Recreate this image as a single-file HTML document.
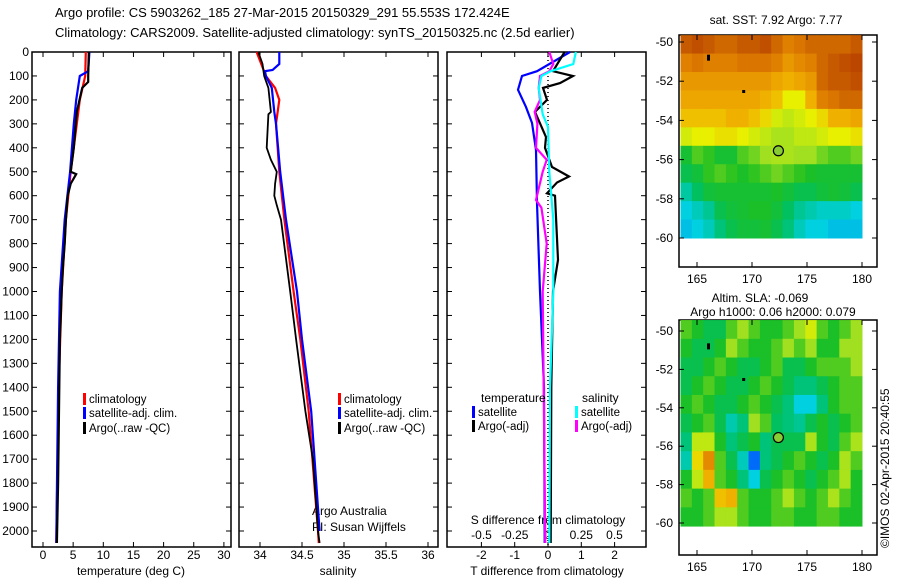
<!DOCTYPE html>
<html><head><meta charset="utf-8">
<style>
body{margin:0;background:#fff;}
svg{display:block;font-family:"Liberation Sans",sans-serif;font-size:12px;}
</style></head>
<body>
<svg id="c" width="900" height="580" viewBox="0 0 900 580">
<text x="55" y="17" font-size="13">Argo profile: CS 5903262_185 27-Mar-2015 20150329_291 55.553S 172.424E</text>
<text x="55" y="37" font-size="13">Climatology: CARS2009. Satellite-adjusted climatology: synTS_20150325.nc (2.5d earlier)</text>
<text x="776" y="24" text-anchor="middle">sat. SST: 7.92  Argo: 7.77</text>
<text x="760" y="302" text-anchor="middle">Altim. SLA: -0.069</text>
<text x="773" y="316" text-anchor="middle">Argo h1000: 0.06 h2000: 0.079</text>
<text transform="translate(889,548) rotate(-90)">©IMOS 02-Apr-2015 20:40:55</text>
<g id="g"></g>
</svg>
<script>
// ---- data ----
const depthTicks=[0,100,200,300,400,500,600,700,800,900,1000,1100,1200,1300,1400,1500,1600,1700,1800,1900,2000];
const tempTicks=[0,5,10,15,20,25,30];
const salTicks=[34,34.5,35,35.5,36];
const salTickLabels=["34","34.5","35","35.5","36"];
const tdiffTicks=[-2,-1,0,1,2];
const sdiffTicks=[-0.5,-0.25,0,0.25,0.5];
const sdiffTickLabels=["-0.5","-0.25","0","0.25","0.5"];

const tArgoDepth=[0,100,125,150,250,400,500,510,550,600,700,800,900,1000,1200,1400,1800,2050];
const tArgo=[7.6,7.5,7.5,6.5,5.6,5.1,4.6,5.5,4.6,4.1,3.8,3.6,3.3,3.1,2.8,2.7,2.5,2.3];
const tClimDepth=[0,100,200,300,500,700,1000,1400,2050];
const tClim=[7.1,7.0,6.1,5.6,4.6,3.8,3.1,2.6,2.2];
const tSatDepth=[0,80,100,200,300,500,700,1000,1400,2050];
const tSat=[7.7,7.5,6.1,5.5,5.1,4.5,3.6,2.8,2.5,2.2];

const sArgoDepth=[0,50,100,150,250,260,400,450,500,550,600,640,700,1000,1200,1500,1700,2000,2050];
const sArgo=[33.98,34.03,34.05,34.1,34.13,34.1,34.08,34.13,34.2,34.18,34.17,34.2,34.25,34.36,34.43,34.54,34.63,34.69,34.71];
const sClimDepth=[0,100,150,200,300,500,700,1000,1200,1500,2000,2050];
const sClim=[33.96,34.07,34.18,34.23,34.19,34.23,34.29,34.4,34.48,34.58,34.69,34.7];
const sSatDepth=[0,50,75,80,100,150,250,300,500,700,1000,1200,1500,2000];
const sSat=[34.23,34.23,34.15,34.06,34.07,34.14,34.17,34.19,34.24,34.31,34.44,34.5,34.61,34.71];

const dTSatDepth=[0,80,100,158,230,296,409,630,1000,1400,2050];
const dTSat=[0.66,-0.33,-0.78,-0.9,-0.66,-0.48,-0.36,-0.33,-0.24,-0.12,-0.1];
const dTArgoDepth=[0,80,100,130,150,200,250,355,400,480,520,545,590,600,868,1000,1400,2050];
const dTArgo=[0.5,0.15,0.75,0.36,-0.15,-0.03,-0.39,-0.06,-0.09,0.12,0.63,0.27,-0.03,0.21,0.3,0.15,0.1,0.08];
const dSSatDepth=[0,50,80,100,150,260,313,500,700,1000,1400,2050];
const dSSat=[0.21,0.19,0.02,-0.05,-0.07,-0.04,0,0.01,0.04,0.04,0.015,0.01];
const dSArgoDepth=[0,50,80,100,150,200,250,300,400,450,500,618,650,800,1000,2050];
const dSArgo=[0.01,0.04,0.01,-0.06,-0.07,-0.06,-0.1,-0.08,-0.09,-0.01,-0.04,-0.09,-0.05,-0.01,-0.04,-0.02];

const lonTicks=[165,170,175,180];
const latTicks=[-50,-52,-54,-56,-58,-60];
const sstGrid=[
[.88,.9,.88,.85,.85,.88,.88,.9,.85,.8,.82,.85,.85,.85,.85,.88],
[.8,.82,.8,.8,.8,.82,.82,.82,.8,.75,.78,.8,.85,.88,.9,.92],
[.75,.75,.75,.75,.75,.75,.75,.75,.72,.7,.72,.75,.85,.88,.88,.9],
[.72,.72,.72,.72,.72,.72,.72,.7,.68,.62,.62,.7,.8,.82,.85,.85],
[.68,.68,.68,.68,.7,.7,.68,.65,.6,.58,.6,.62,.65,.7,.7,.72],
[.6,.62,.62,.64,.64,.62,.6,.58,.56,.56,.58,.58,.6,.62,.62,.64],
[.45,.5,.48,.45,.45,.5,.52,.55,.56,.56,.55,.55,.52,.5,.5,.52],
[.42,.44,.48,.5,.48,.46,.48,.5,.52,.5,.48,.46,.45,.45,.45,.45],
[.35,.4,.44,.45,.45,.45,.45,.45,.46,.44,.42,.42,.44,.45,.44,.42],
[.3,.33,.36,.42,.44,.45,.46,.46,.44,.4,.36,.34,.32,.32,.32,.3],
[.28,.3,.33,.38,.42,.44,.44,.45,.42,.38,.33,.3,.3,.28,.28,.28]];
const slaGrid=[
[.5,.46,.42,.42,.5,.55,.5,.46,.46,.5,.55,.6,.5,.46,.5,.55],
[.46,.42,.42,.46,.55,.5,.46,.46,.5,.55,.5,.55,.46,.46,.55,.55],
[.42,.42,.46,.5,.46,.42,.42,.46,.5,.42,.42,.46,.5,.5,.5,.55],
[.42,.46,.5,.46,.42,.42,.46,.5,.46,.42,.38,.38,.42,.46,.5,.5],
[.46,.5,.46,.42,.42,.46,.5,.46,.42,.38,.3,.3,.38,.46,.5,.5],
[.42,.46,.5,.42,.34,.38,.55,.5,.4,.38,.36,.42,.46,.42,.46,.5],
[.38,.58,.58,.46,.38,.42,.46,.38,.42,.42,.42,.56,.46,.42,.5,.56],
[.34,.65,.78,.5,.42,.33,.18,.38,.42,.46,.5,.46,.42,.46,.56,.5],
[.46,.58,.7,.5,.46,.38,.3,.42,.46,.5,.46,.42,.46,.5,.56,.46],
[.5,.46,.5,.68,.7,.5,.46,.46,.5,.56,.5,.46,.5,.56,.5,.46],
[.46,.46,.5,.56,.56,.5,.46,.46,.5,.5,.46,.46,.5,.5,.46,.46]];
const argoLon=172.4, argoLat=-55.55;

// ---- drawing ----
const NS='http://www.w3.org/2000/svg';
const G=document.getElementById('g');
function mk(tag,attrs,parent){const e=document.createElementNS(NS,tag);for(const k in attrs)e.setAttribute(k,attrs[k]);(parent||G).appendChild(e);return e;}
const Y=d=>52+d*0.2395;

const panels=[
 {x0:32,x1:231,xs:v=>43+(v-0)*6.03,name:'temperature-panel'},
 {x0:239,x1:438,xs:v=>260+(v-34)*84,name:'salinity-panel'},
 {x0:447,x1:646,xs:v=>548+v*33.3,name:'difference-panel'}];
const sx3=v=>548+v*133;
const YB=547;

panels.forEach((p,i)=>{
  const r=mk('rect',{x:p.x0,y:52,width:p.x1-p.x0,height:YB-52,fill:'none',stroke:'#000','stroke-width':1.5});
  
  
  depthTicks.forEach(d=>{
    mk('line',{x1:p.x0,x2:p.x0+5,y1:Y(d),y2:Y(d),stroke:'#000'});
    mk('line',{x1:p.x1-5,x2:p.x1,y1:Y(d),y2:Y(d),stroke:'#000'});
    if(i===0){const t=mk('text',{x:29,y:Y(d)+4,'text-anchor':'end'});t.textContent=d;
      
      }
  });
});
function xTicks(p,vals,labels,ly){
  vals.forEach((v,k)=>{const x=p.xs(v);
    mk('line',{x1:x,x2:x,y1:52,y2:57,stroke:'#000'});
    mk('line',{x1:x,x2:x,y1:YB-5,y2:YB,stroke:'#000'});
    const t=mk('text',{x:x,y:ly,'text-anchor':'middle'});t.textContent=labels?labels[k]:v;
    
    });
}
xTicks(panels[0],tempTicks,null,559);
xTicks(panels[1],salTicks,salTickLabels,559);
xTicks(panels[2],tdiffTicks,null,559);
sdiffTicks.forEach((v,k)=>{const t=mk('text',{x:sx3(v),y:539,'text-anchor':'middle'});t.textContent=sdiffTickLabels[k];
  
  });

function label(x,y,s,name,anchor){const t=mk('text',{x:x,y:y,'text-anchor':anchor||'start'});t.textContent=s;
  
  return t;}
label(131,575,'temperature (deg C)','temperature-axis-title','middle');
label(338,575,'salinity','salinity-axis-title','middle');
label(547,575,'T difference from climatology','t-diff-axis-title','middle');
label(548,524,'S difference from climatology','s-diff-axis-title','middle');
label(312,515,'Argo Australia','institution-label');
label(312,531,'PI: Susan Wijffels','pi-label');

const z=mk('line',{x1:548,x2:548,y1:52,y2:YB,stroke:'#000','stroke-dasharray':'1,3','stroke-width':1.5});



function series(xs,ds,vs,color,name,w){
  const pts=vs.map((v,k)=>xs(v).toFixed(1)+','+Y(ds[k]).toFixed(1)).join(' ');
  const l=mk('polyline',{points:pts,fill:'none',stroke:color,'stroke-width':w||2.2,'stroke-linejoin':'miter'});
  
  
}
series(panels[0].xs,tClimDepth,tClim,'#f00','temp-climatology-line');
series(panels[0].xs,tSatDepth,tSat,'#00f','temp-satellite-line');
series(panels[0].xs,tArgoDepth,tArgo,'#000','temp-argo-line');
series(panels[1].xs,sClimDepth,sClim,'#f00','sal-climatology-line');
series(panels[1].xs,sSatDepth,sSat,'#00f','sal-satellite-line');
series(panels[1].xs,sArgoDepth,sArgo,'#000','sal-argo-line',1.8);
series(panels[2].xs,dTSatDepth,dTSat,'#00f','tdiff-satellite-line');
series(panels[2].xs,dTArgoDepth,dTArgo,'#000','tdiff-argo-line');
series(sx3,dSArgoDepth,dSArgo,'#f0f','sdiff-argo-line');
series(sx3,dSSatDepth,dSSat,'#0ff','sdiff-satellite-line');

function legendEntry(x,y,color,s){
  const g=mk('g',{});
  
  
  mk('rect',{x:x,y:y-10,width:3,height:12,fill:color},g);
  const t=mk('text',{x:x+6,y:y,'font-size':'11.5'},g);t.textContent=s;
}
[[83],[338]].forEach(([x])=>{
  legendEntry(x,403,'#f00','climatology');
  legendEntry(x,417,'#00f','satellite-adj. clim.');
  legendEntry(x,432,'#000','Argo(..raw -QC)');
});
label(481,402,'temperature','legend-temperature-header');
label(582,402,'salinity','legend-salinity-header');
legendEntry(472,416,'#00f','satellite');
legendEntry(472,430,'#000','Argo(-adj)');
legendEntry(575,416,'#0ff','satellite');
legendEntry(575,430,'#f0f','Argo(-adj)');

// ---- maps ----
const stops=[[0,[0,0,160]],[.15,[0,80,255]],[.3,[0,208,224]],[.4,[0,192,96]],[.47,[32,192,32]],[.55,[160,224,32]],[.62,[232,240,0]],[.7,[240,176,0]],[.8,[224,128,0]],[.9,[192,80,0]],[1,[160,32,0]]];
function cmap(v){for(let i=1;i<stops.length;i++){if(v<=stops[i][0]){const a=stops[i-1],b=stops[i],t=(v-a[0])/(b[0]-a[0]);
  return 'rgb('+a[1].map((c,k)=>Math.round(c+(b[1][k]-c)*t)).join(',')+')';}}return 'rgb(160,32,0)';}
const LX=lon=>697+11*(lon-165);
function drawMap(top,bot,latTop,latBot,grid,yLat,name){
  const fr=mk('rect',{x:679,y:top,width:198,height:bot-top,fill:'#fff',stroke:'#000','stroke-width':1.5});
  
  
  const rows=grid.length,cols=grid[0].length,lon0=163.5,lon1=180;
  const dLon=(lon1-lon0)/cols,dLat=(latTop-latBot)/rows;
  grid.forEach((row,r)=>row.forEach((v,c)=>{
    const x=LX(lon0+c*dLon),y=yLat(latTop-r*dLat);
    const cell=mk('rect',{x:x,y:y,width:LX(lon0+(c+1)*dLon)-x+0.5,height:yLat(latTop-(r+1)*dLat)-y+0.5,fill:cmap(v)});
    
    
  }));
  lonTicks.forEach(l=>{mk('line',{x1:LX(l),x2:LX(l),y1:top,y2:top+5,stroke:'#000'});mk('line',{x1:LX(l),x2:LX(l),y1:bot-5,y2:bot,stroke:'#000'});
    const t=mk('text',{x:LX(l),y:bot+16,'text-anchor':'middle'});t.textContent=l;
    
    });
  latTicks.forEach(l=>{const y=yLat(l);mk('line',{x1:679,x2:684,y1:y,y2:y,stroke:'#000'});mk('line',{x1:872,x2:877,y1:y,y2:y,stroke:'#000'});
    const t=mk('text',{x:673,y:y+4,'text-anchor':'end'});t.textContent=l;
    
    });
  const c=mk('circle',{cx:LX(argoLon),cy:yLat(argoLat),r:5,fill:'#8c3',stroke:'#000','stroke-width':1.2});
  
  
  mk('rect',{x:LX(166)-1,y:yLat(-50.8)-3,width:3,height:6,fill:'#000'});
  mk('rect',{x:LX(169.2)-1,y:yLat(-52.5)-1,width:3,height:3,fill:'#000'});
}
drawMap(35,267,-49.65,-60.0,sstGrid,lat=>42+19.6*(-50-lat),'sst-map');
drawMap(320,555,-49.43,-60.16,slaGrid,lat=>331+19.2*(-50-lat),'sla-map');
</script>
</body></html>
